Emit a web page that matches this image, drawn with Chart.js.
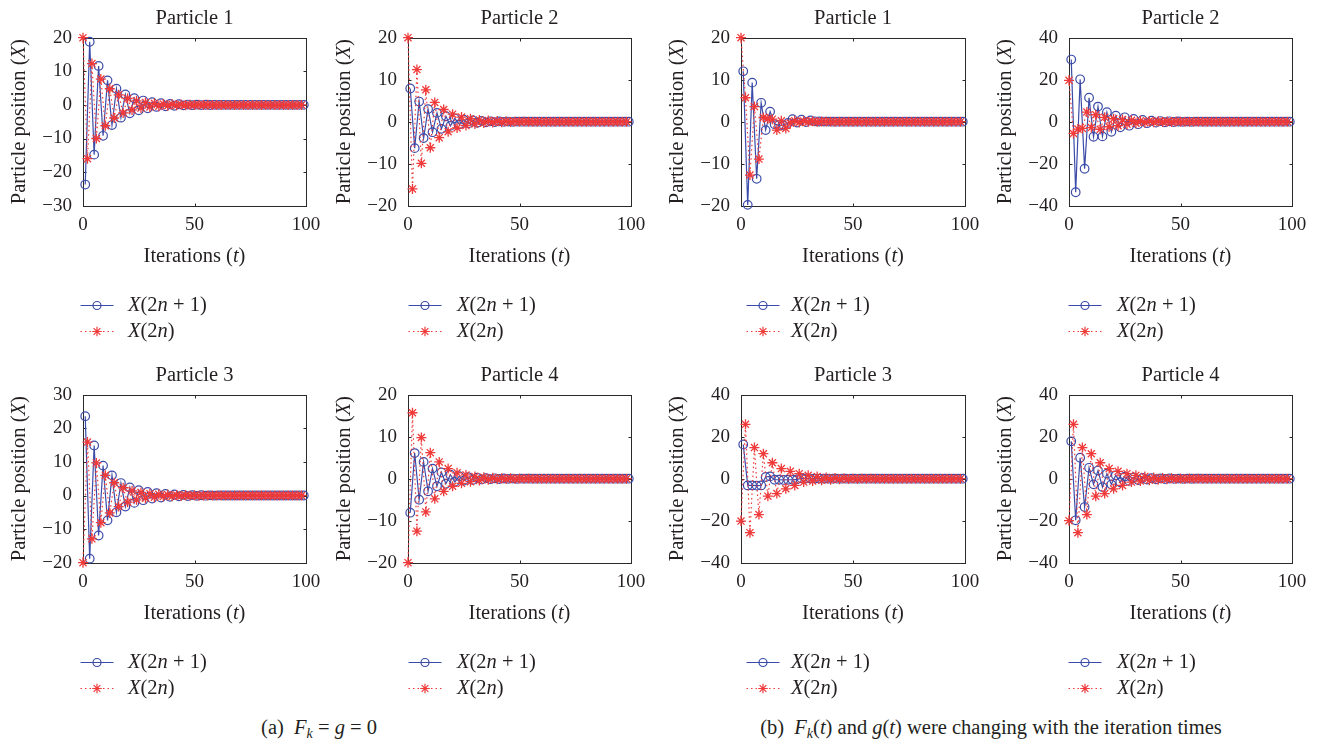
<!DOCTYPE html>
<html><head><meta charset="utf-8">
<script src="https://cdn.jsdelivr.net/npm/chart.js@4.4.1/dist/chart.umd.min.js"></script>
<style>
html,body{margin:0;padding:0;background:#fff;}
body{width:1323px;height:748px;position:relative;overflow:hidden;font-family:"Liberation Serif","Times New Roman",serif;color:#231f20;}
canvas{position:absolute;}
.cap{position:absolute;top:714px;font-size:20.5px;line-height:26px;white-space:nowrap;transform:translateX(-50%);}
.cap sub{font-size:14px;vertical-align:-4px;line-height:0;}
</style></head><body>
<div class="cap" style="left:319px">(a)&nbsp; <i>F<sub>k</sub></i> = <i>g</i> = 0</div>
<div class="cap" style="left:991px">(b)&nbsp; <i>F<sub>k</sub></i>(<i>t</i>) and <i>g</i>(<i>t</i>) were changing with the iteration times</div>
<script>
// ---------- categories (iterations t) ----------
const ITER_EVEN = [0,2,4,6,8,10,12,14,16,18,20,22,24,26,28,30,32,34,36,38,40,42,44,46,48,50,52,54,56,58,60,62,64,66,68,70,72,74,76,78,80,82,84,86,88,90,92,94,96,98];
const ITER_ODD  = [1,3,5,7,9,11,13,15,17,19,21,23,25,27,29,31,33,35,37,39,41,43,45,47,49,51,53,55,57,59,61,63,65,67,69,71,73,75,77,79,81,83,85,87,89,91,93,95,97,99];

// ---------- (a) Fk = g = 0 ----------
const A_P1_ODD = [-23.7,18.8,-14.8,11.6,-9.2,7.3,-6.0,4.8,-3.8,3.1,
  -2.5,2.0,-1.6,1.3,-1.0,0.8,-0.6,0.5,-0.4,0.3,
  -0.25,0.2,-0.15,0.1,-0.08,0.06,-0.05,0.04,-0.03,0.02,
  0,0,0,0,0,0,0,0,0,0, 0,0,0,0,0,0,0,0,0,0];
const A_P1_EVEN = [20,-16.0,12.3,-10.0,7.7,-6.2,4.8,-3.9,3.0,-2.4,
  1.9,-1.5,1.2,-0.95,0.75,-0.6,0.47,-0.37,0.29,-0.23,
  0.18,-0.14,0.11,-0.09,0.07,-0.05,0.04,-0.03,0.02,0,
  0,0,0,0,0,0,0,0,0,0, 0,0,0,0,0,0,0,0,0,0];
const A_P2_ODD = [7.9,-6.3,4.8,-3.9,3.0,-2.5,2.1,-1.7,1.3,-1.0,
  0.8,-0.65,0.5,-0.4,0.3,-0.25,0.2,-0.15,0.1,-0.08,
  0.06,-0.05,0.03,-0.02,0.01,0,0,0,0,0,
  0,0,0,0,0,0,0,0,0,0, 0,0,0,0,0,0,0,0,0,0];
const A_P2_EVEN = [20,-16.0,12.4,-9.9,7.6,-6.2,4.6,-3.8,2.9,-2.4,
  1.8,-1.5,1.1,-0.9,0.7,-0.55,0.42,-0.33,0.26,-0.2,
  0.15,-0.12,0.09,-0.07,0.05,-0.04,0.03,-0.02,0.01,0,
  0,0,0,0,0,0,0,0,0,0, 0,0,0,0,0,0,0,0,0,0];
const A_P3_ODD = [23.6,-18.8,14.9,-11.9,8.9,-7.4,6.0,-5.0,3.7,-3.3,
  2.4,-2.2,1.6,-1.4,1.05,-0.9,0.7,-0.6,0.45,-0.4,
  0.3,-0.25,0.2,-0.16,0.12,-0.1,0.07,-0.06,0.04,-0.03,
  0.02,0,0,0,0,0,0,0,0,0, 0,0,0,0,0,0,0,0,0,0];
const A_P3_EVEN = [-20,15.9,-12.9,9.7,-8.1,6.0,-5.2,3.8,-3.3,2.3,
  -2.0,1.4,-1.3,0.9,-0.8,0.55,-0.5,0.35,-0.32,0.22,
  -0.2,0.14,-0.12,0.09,-0.07,0.05,-0.04,0.03,-0.02,0,
  0,0,0,0,0,0,0,0,0,0, 0,0,0,0,0,0,0,0,0,0];
const A_P4_ODD = [-8.1,6.1,-5.0,4.0,-3.0,2.4,-1.8,1.5,-1.2,0.95,
  -0.75,0.6,-0.47,0.37,-0.29,0.23,-0.18,0.14,-0.11,0.09,
  -0.07,0.05,-0.04,0.03,-0.02,0,0,0,0,0,
  0,0,0,0,0,0,0,0,0,0, 0,0,0,0,0,0,0,0,0,0];
const A_P4_EVEN = [-20,15.7,-12.5,9.8,-7.9,6.2,-4.8,4.0,-3.0,2.4,
  -1.8,1.4,-1.1,0.9,-0.7,0.55,-0.43,0.34,-0.27,0.21,
  -0.16,0.13,-0.1,0.08,-0.06,0.04,-0.03,0.02,0,0,
  0,0,0,0,0,0,0,0,0,0, 0,0,0,0,0,0,0,0,0,0];

// ---------- (b) Fk(t), g(t) changing ----------
const B_P1_ODD = [12.0,-19.8,9.3,-13.6,4.5,-2.0,2.4,-0.6,-0.8,-0.9,
  -0.3,0.6,-0.2,0.5,-0.1,0.3,0.1,0.05,0.03,0.02,
  0,0,0,0,0,0,0,0,0,0, 0,0,0,0,0,0,0,0,0,0, 0,0,0,0,0,0,0,0,0,0];
const B_P1_EVEN = [20,5.7,-12.7,3.6,-8.9,1.0,0.7,0.6,-2.0,0.2,
  -1.6,-0.3,0.2,-0.2,0.15,-0.1,0.08,-0.05,0.03,0.02,
  0,0,0,0,0,0,0,0,0,0, 0,0,0,0,0,0,0,0,0,0, 0,0,0,0,0,0,0,0,0,0];
const B_P2_ODD = [29.6,-33.6,20.2,-22.4,11.4,-7.2,7.2,-7.0,4.5,-4.8,
  2.9,-2.7,2.1,-1.9,1.3,-1.2,0.8,-0.7,0.5,-0.45,
  0.3,-0.25,0.18,-0.15,0.1,-0.08,0.05,-0.04,0.02,0,
  0,0,0,0,0,0,0,0,0,0, 0,0,0,0,0,0,0,0,0,0];
const B_P2_EVEN = [19.7,-5.6,-3.5,-3.2,4.6,-2.8,3.3,-3.6,2.1,-2.4,
  1.4,-1.9,1.0,-1.2,0.7,-0.7,0.45,-0.45,0.3,-0.3,
  0.18,-0.18,0.1,-0.1,0.06,-0.05,0.03,0,0,0,
  0,0,0,0,0,0,0,0,0,0, 0,0,0,0,0,0,0,0,0,0];
const B_P3_ODD = [16.3,-3.2,-3.2,-3.3,-3.2,0.8,1.1,-0.5,-0.5,-0.6,
  -0.5,-0.5,-0.3,0.15,0.1,0.08,0.05,0.03,0,0,
  0,0,0,0,0,0,0,0,0,0, 0,0,0,0,0,0,0,0,0,0, 0,0,0,0,0,0,0,0,0,0];
const B_P3_EVEN = [-20.2,25.9,-25.7,14.8,-17.1,11.9,-8.3,7.6,-7.1,4.8,
  -4.8,3.5,-3.2,2.4,-1.6,1.6,-1.1,1.0,-0.7,0.6,
  -0.45,0.38,-0.3,0.24,-0.18,0.14,-0.1,0.08,-0.06,0.04,
  -0.03,0.02,0,0,0,0,0,0,0,0, 0,0,0,0,0,0,0,0,0,0];
const B_P4_ODD = [17.8,-19.8,10.0,-13.5,5.2,-2.7,3.9,-4.0,2.4,-2.7,
  1.6,-1.7,1.0,-1.05,0.65,-0.65,0.4,-0.4,0.25,-0.25,
  0.15,-0.15,0.09,-0.09,0.05,-0.05,0.03,-0.03,0,0,
  0,0,0,0,0,0,0,0,0,0, 0,0,0,0,0,0,0,0,0,0];
const B_P4_EVEN = [-20,25.9,-25.7,14.8,-17.1,11.9,-8.3,7.6,-7.1,4.8,
  -4.8,3.5,-3.2,2.4,-1.6,1.6,-1.1,1.0,-0.7,0.6,
  -0.45,0.38,-0.3,0.24,-0.18,0.14,-0.1,0.08,-0.06,0.04,
  -0.03,0.02,0,0,0,0,0,0,0,0, 0,0,0,0,0,0,0,0,0,0];

// ---------- text ----------
const TITLES = ['Particle 1','Particle 2','Particle 1','Particle 2','Particle 3','Particle 4','Particle 3','Particle 4'];
const Y_RANGES = [[-30,20,10],[-20,20,10],[-20,20,10],[-40,40,20],[-20,30,10],[-20,20,10],[-40,40,20],[-40,40,20]];
const X_TICKS = [0,50,100];
const ODD_SERIES  = [A_P1_ODD,A_P2_ODD,B_P1_ODD,B_P2_ODD,A_P3_ODD,A_P4_ODD,B_P3_ODD,B_P4_ODD];
const EVEN_SERIES = [A_P1_EVEN,A_P2_EVEN,B_P1_EVEN,B_P2_EVEN,A_P3_EVEN,A_P4_EVEN,B_P3_EVEN,B_P4_EVEN];

// ---------- layout / style ----------
const FONT = '"Liberation Serif","Times New Roman",serif';
const TXT = '#231f20';
const BLUE = '#3b4ba8';
const RED = '#f03a3a';
const COLS = [{l:83,r:306,sym:14,txt:45},{l:408,r:631,sym:17,txt:49},{l:741,r:965,sym:22,txt:50},{l:1069,r:1292,sym:16,txt:48}];
const ROW_TOP = [0,357];
const CANVAS_H = 350, PLOT_TOP = 37.7, PLOT_BOTTOM = 205.7, LEFT_W = 83, RIGHT_PAD = 28;

function drawMixed(ctx, parts, x, y, align, size){
  const w = parts.map(p => { ctx.font = (p[1] ? 'italic ' : '') + size + 'px ' + FONT; return ctx.measureText(p[0]).width; });
  const total = w.reduce((a,b)=>a+b,0);
  let sx = align === 'center' ? x - total/2 : x;
  ctx.textBaseline = 'middle'; ctx.textAlign = 'left'; ctx.fillStyle = TXT;
  parts.forEach((p,i) => { ctx.font = (p[1] ? 'italic ' : '') + size + 'px ' + FONT; ctx.fillText(p[0], sx, y); sx += w[i]; });
}
function starPath(ctx, x, y, r){
  const d = r*Math.SQRT1_2;
  ctx.beginPath();
  ctx.moveTo(x-r,y); ctx.lineTo(x+r,y);
  ctx.moveTo(x,y-r); ctx.lineTo(x,y+r);
  ctx.moveTo(x-d,y-d); ctx.lineTo(x+d,y+d);
  ctx.moveTo(x-d,y+d); ctx.lineTo(x+d,y-d);
  ctx.stroke();
}

const decor = {
  id: 'decor',
  beforeDatasetsDraw(chart, args, o){
    const {ctx, chartArea:a, scales:{x, y}} = chart;
    ctx.save();
    ctx.strokeStyle = '#2a2a2a'; ctx.lineWidth = 1; ctx.setLineDash([]);
    const L = Math.round(a.left)+0.5, T = Math.round(a.top)+0.5, R = Math.round(a.right)+0.5, B = Math.round(a.bottom)+0.5;
    ctx.strokeRect(L, T, R-L, B-T);
    ctx.beginPath();
    x.ticks.forEach(t => { const p = Math.round(x.getPixelForValue(t.value))+0.5; ctx.moveTo(p,B); ctx.lineTo(p,B-3); ctx.moveTo(p,T); ctx.lineTo(p,T+3); });
    y.ticks.forEach(t => { const p = Math.round(y.getPixelForValue(t.value))+0.5; ctx.moveTo(L,p); ctx.lineTo(L+3,p); ctx.moveTo(R,p); ctx.lineTo(R-3,p); });
    ctx.stroke();
    ctx.restore();
  },
  afterDraw(chart, args, o){
    const {ctx, chartArea:a} = chart;
    const cx = (a.left + a.right)/2, cy = (a.top + a.bottom)/2;
    ctx.save();
    drawMixed(ctx, [[o.title,false]], cx, 19, 'center', 20.5);
    drawMixed(ctx, [['Iterations (',false],['t',true],[')',false]], cx, 257, 'center', 20.5);
    ctx.save(); ctx.translate(a.left - 63, cy); ctx.rotate(-Math.PI/2);
    drawMixed(ctx, [['Particle position (',false],['X',true],[')',false]], 0, 0, 'center', 20.5);
    ctx.restore();
    const sx = a.left + o.sym, tx = a.left + o.txt, y1 = 305.5, y2 = 331.5;
    ctx.lineWidth = 1.2;
    ctx.strokeStyle = BLUE; ctx.setLineDash([]);
    ctx.beginPath(); ctx.moveTo(sx-16.5,y1); ctx.lineTo(sx+16.5,y1); ctx.stroke();
    ctx.beginPath(); ctx.arc(sx,y1,4,0,Math.PI*2); ctx.stroke();
    ctx.strokeStyle = RED; ctx.setLineDash([1.5,3]);
    ctx.beginPath(); ctx.moveTo(sx-16.5,y2); ctx.lineTo(sx+16.5,y2); ctx.stroke();
    ctx.setLineDash([]); starPath(ctx, sx, y2, 4.8);
    drawMixed(ctx, [['X',true],['(2',false],['n',true],[' + 1)',false]], tx, y1, 'left', 20.5);
    drawMixed(ctx, [['X',true],['(2',false],['n',true],[')',false]], tx, y2, 'left', 20.5);
    ctx.restore();
  }
};

function toPoints(xs, ys){ return ys.map((v,i) => ({x: xs[i], y: v})); }
const minus = v => (v < 0 ? '\u2212' + Math.abs(v) : String(v));

for (let i = 0; i < 8; i++){
  const col = COLS[i % 4], rowTop = ROW_TOP[Math.floor(i / 4)];
  const cv = document.createElement('canvas');
  const W = col.r - col.l + LEFT_W + RIGHT_PAD;
  cv.width = W; cv.height = CANVAS_H;
  cv.style.left = (col.l - LEFT_W) + 'px'; cv.style.top = rowTop + 'px';
  cv.style.width = W + 'px'; cv.style.height = CANVAS_H + 'px';
  document.body.appendChild(cv);
  const [ymin, ymax, ystep] = Y_RANGES[i];
  new Chart(cv, {
    type: 'scatter',
    data: { datasets: [
      { label: 'X(2n + 1)', data: toPoints(ITER_ODD, ODD_SERIES[i]), showLine: true,
        borderColor: BLUE, borderWidth: 1.2, backgroundColor: 'rgba(0,0,0,0)',
        pointStyle: 'circle', pointRadius: 4.3, pointBorderWidth: 1.2, pointBorderColor: BLUE,
        pointBackgroundColor: 'rgba(0,0,0,0)', order: 2, clip: false, tension: 0 },
      { label: 'X(2n)', data: toPoints(ITER_EVEN, EVEN_SERIES[i]), showLine: true,
        borderColor: RED, borderWidth: 1.2, borderDash: [1.5,3], backgroundColor: 'rgba(0,0,0,0)',
        pointStyle: 'star', pointRadius: 5, pointBorderWidth: 1.3, pointBorderColor: RED,
        pointBackgroundColor: RED, order: 1, clip: false, tension: 0 }
    ]},
    options: {
      responsive: false, animation: false, devicePixelRatio: 1,
      layout: { padding: { top: PLOT_TOP, right: RIGHT_PAD, bottom: 0, left: 0 } },
      plugins: { legend: { display: false }, tooltip: { enabled: false },
        decor: { title: TITLES[i], sym: col.sym, txt: col.txt } },
      scales: {
        x: { type: 'linear', min: 0, max: 100,
          afterBuildTicks: s => { s.ticks = X_TICKS.map(v => ({value: v})); },
          ticks: { padding: 8, maxRotation: 0, autoSkip: false, color: TXT, font: { family: FONT, size: 19 } },
          grid: { display: false, drawTicks: false }, border: { display: false },
          afterFit: s => { s.height = CANVAS_H - PLOT_BOTTOM; } },
        y: { type: 'linear', min: ymin, max: ymax,
          ticks: { stepSize: ystep, padding: 11, autoSkip: false, color: TXT, font: { family: FONT, size: 19 }, callback: minus },
          grid: { display: false, drawTicks: false }, border: { display: false },
          afterFit: s => { s.width = LEFT_W; } }
      }
    },
    plugins: [decor]
  });
}
</script>
</body></html>
